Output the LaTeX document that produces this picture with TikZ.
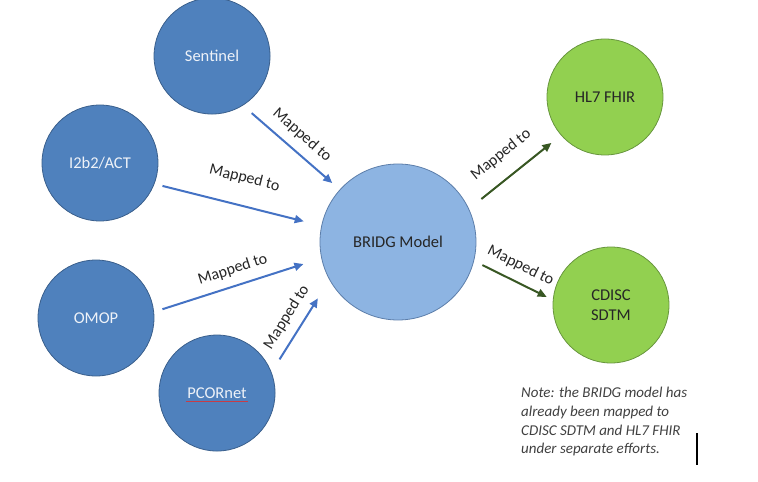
\documentclass[tikz,border=0pt]{standalone}
\usepackage{fontspec}
\setmainfont{Carlito}
\usetikzlibrary{arrows.meta}
\definecolor{srcfill}{RGB}{79,129,189}
\definecolor{srcline}{RGB}{58,95,140}
\definecolor{srctext}{RGB}{238,242,248}
\definecolor{modelfill}{RGB}{141,180,226}
\definecolor{modelline}{RGB}{92,126,170}
\definecolor{tgtfill}{RGB}{146,208,80}
\definecolor{tgtline}{RGB}{104,150,62}
\definecolor{arrowblue}{RGB}{68,114,196}
\definecolor{arrowgreen}{RGB}{56,87,35}
\definecolor{squiggle}{RGB}{200,60,70}
\tikzset{source/.style={shape=circle, draw=srcline, fill=srcfill, line width=0.8pt, minimum size=116pt, inner sep=0pt, text=srctext, font=\fontsize{16.5}{20}\selectfont}}
\tikzset{model/.style={shape=circle, draw=modelline, fill=modelfill, line width=0.8pt, minimum size=156pt, inner sep=0pt, text=black!85, font=\fontsize{16.5}{20}\selectfont}}
\tikzset{target/.style={shape=circle, draw=tgtline, fill=tgtfill, line width=0.8pt, minimum size=116pt, inner sep=0pt, text=black!85, align=center, font=\fontsize{16.5}{20}\selectfont}}
\tikzset{bluearrow/.style={draw=arrowblue, line width=2pt, -{Triangle[length=9pt,width=8pt]}}}
\tikzset{greenarrow/.style={draw=arrowgreen, line width=2pt, -{Triangle[length=9pt,width=8pt]}}}
\tikzset{maplabel/.style={midway, sloped, above=8.5pt, inner sep=0pt, text=black!85, font=\fontsize{16}{18}\selectfont}}
\tikzset{note/.style={align=left, inner sep=0pt, text=black!75, font=\fontsize{15}{18.7}\selectfont\itshape}}

\begin{document}
\begin{tikzpicture}
  \useasboundingbox (-398pt,-240pt) rectangle (360pt,242pt);

  \node[model] (bridg) {BRIDG Model};
  \node[source] (sent) [node distance=263pt, above left of=bridg] {Sentinel};
  \node[source] (i2b2) [node distance=298pt, left of=bridg, yshift=79pt] {I2b2/ACT};
  \node[source] (omop) [node distance=155pt, below of=i2b2, xshift=-4pt] {OMOP};
  \node[source] (pcor) [node distance=337pt, below of=sent, xshift=5pt] {PCORnet};
  \node[target] (hl7) [node distance=207pt, right of=bridg, yshift=145pt] {HL7 FHIR};
  \node[target] (cdisc) [node distance=208pt, below of=hl7, xshift=6pt] {CDISC\\SDTM};

  % spell-check mark under PCORnet
  \draw[squiggle, line width=0.9pt] ([shift={(-31pt,-8.5pt)}]pcor.center) -- ++(62pt,0);

  \path (sent.-58.6) edge[bluearrow, shorten <=11.5pt, shorten >=9.9pt] node[maplabel] {Mapped to} (bridg.138.6);
  \path (i2b2.-21.2) edge[bluearrow, shorten <=8.2pt, shorten >=18.1pt] node[maplabel, above=11pt] {Mapped to} (bridg.168.5);
  \path (omop.6.3) edge[bluearrow, shorten <=8.8pt, shorten >=18.8pt] node[maplabel] {Mapped to} (bridg.192.9);
  \path (pcor.21.7) edge[bluearrow, shorten <=15pt, shorten >=21.7pt] node[maplabel] {Mapped to} (bridg.209);

  \path (bridg.25.2) edge[greenarrow, shorten <=15.8pt, shorten >=12.2pt] node[maplabel, above=6pt] {Mapped to} (hl7.221.5);
  \path (bridg.-14) edge[greenarrow, shorten <=9.3pt, shorten >=6.9pt] node[maplabel] {Mapped to} (cdisc.175);

  \node[note, anchor=north west] (note) at (123pt,-145pt) {Note: the BRIDG model has\\already been mapped to\\CDISC SDTM and HL7 FHIR\\under separate efforts.};
  \draw[line width=2.5pt] (299pt,-191pt) -- (299pt,-223pt);
\end{tikzpicture}
\end{document}
